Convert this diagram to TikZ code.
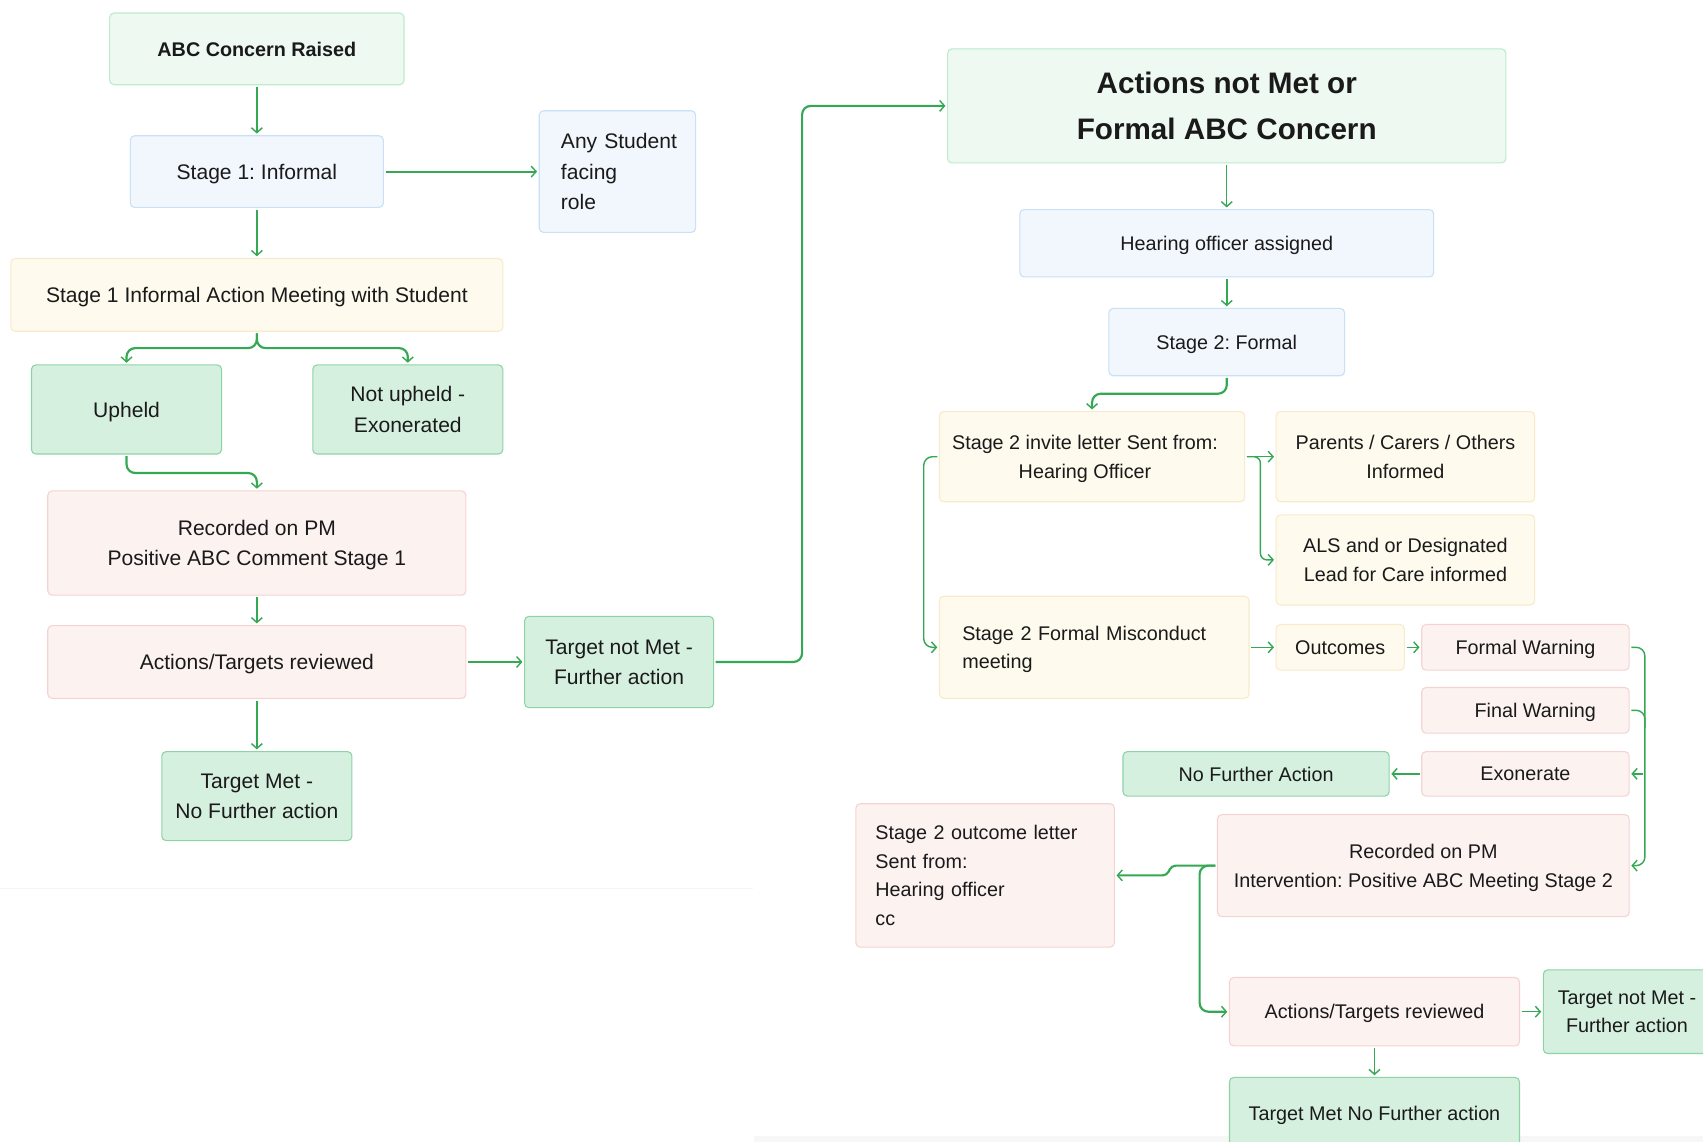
\documentclass[tikz,border=0pt]{standalone}
\usepackage{fontspec}
\setmainfont{Liberation Sans}
\frenchspacing
\usetikzlibrary{arrows.meta}
\definecolor{gfill}{HTML}{D6F0E0}
\definecolor{gline}{HTML}{8ED3A6}
\definecolor{lgfill}{HTML}{EEF9F1}
\definecolor{lgline}{HTML}{BDEBCB}
\definecolor{bfill}{HTML}{F1F7FD}
\definecolor{bline}{HTML}{C9E0F6}
\definecolor{yfill}{HTML}{FEFAEE}
\definecolor{yline}{HTML}{F9EBC9}
\definecolor{pfill}{HTML}{FCF3F1}
\definecolor{pline}{HTML}{F6D3D3}
\definecolor{lgreen}{HTML}{34A853}
\definecolor{txt}{HTML}{1A1A1A}
\tikzset{
  base/.style={draw, rounded corners=4pt, line width=1pt, align=center, inner sep=0pt,
    text depth=0pt, font=\fontsize{19.4}{28}\selectfont, text=txt},
  leftbox/.style={text depth=, align=left},
  rt/.style={font=\fontsize{18.2}{26.5}\selectfont},
  gbox/.style={base, fill=gfill, draw=gline},
  lgbox/.style={base, fill=lgfill, draw=lgline},
  bbox/.style={base, fill=bfill, draw=bline},
  ybox/.style={base, fill=yfill, draw=yline},
  pbox/.style={base, fill=pfill, draw=pline},
  arr/.style={draw=lgreen, line width=1.3pt, shorten >=1.5pt, shorten <=1.5pt,
    -{Straight Barb[length=4.5pt,width=10pt,line width=1.3pt]}},
  arrt/.style={arr, line width=2pt},
  ln/.style={draw=lgreen, line width=1.3pt},
}
\begin{document}
\begin{tikzpicture}[x=1pt,y=-1pt]
\useasboundingbox (0,0) rectangle (1568,1051);
\clip (0,0) rectangle (1568,1051);
\fill[white] (0,0) rectangle (1568,1051);
% faint panel edges
\draw[black!4, line width=1pt] (0,818) -- (693,818);
\fill[black!3] (694,1046) rectangle (1568,1051);

% left column
\node[lgbox, minimum width=271pt, minimum height=66pt, font=\bfseries\fontsize{18.2}{26}\selectfont] (abc) at (236.5,45) {ABC Concern Raised};
\node[bbox, minimum width=233pt, minimum height=66pt] (s1) at (236.5,158) {Stage 1: Informal};
\node[bbox, leftbox, minimum width=143pt, minimum height=112pt, text width=104pt, inner xsep=20pt] (any) at (568.5,158) {\mbox{Any Student}\\facing\\role};
\node[ybox, minimum width=453pt, minimum height=67pt] (meet) at (236.5,271.5) {Stage 1 Informal Action Meeting with Student};
\node[gbox, minimum width=175pt, minimum height=82pt] (upheld) at (116.5,377) {Upheld};
\node[gbox, minimum width=175pt, minimum height=82pt] (notup) at (375.5,377) {Not upheld -\\Exonerated};
\node[pbox, minimum width=385pt, minimum height=96pt] (rec1) at (236.5,500) {Recorded on PM\\Positive ABC Comment Stage 1};
\node[pbox, minimum width=385pt, minimum height=67pt] (act1) at (236.5,609.5) {Actions/Targets reviewed};
\node[gbox, minimum width=174pt, minimum height=84pt] (tnm1) at (570,609.5) {Target not Met -\\Further action};
\node[gbox, minimum width=175pt, minimum height=82pt] (tm1) at (236.5,733) {Target Met -\\No Further action};

% right column
\node[lgbox, minimum width=514pt, minimum height=105pt, font=\bfseries\fontsize{27.3}{42}\selectfont] (anm) at (1129.5,97.5) {Actions not Met or\\Formal ABC Concern};
\node[bbox, rt, minimum width=381pt, minimum height=62pt] (hear) at (1129.5,224) {Hearing officer assigned};
\node[bbox, rt, minimum width=217pt, minimum height=62pt] (s2) at (1129.5,315) {Stage 2: Formal};
\node[ybox, rt, minimum width=281pt, minimum height=83pt] (inv) at (1005.5,420.5) {Stage 2 invite letter Sent from:\hspace*{13pt}\\Hearing Officer\hspace*{13pt}};
\node[ybox, rt, minimum width=238pt, minimum height=83pt] (par) at (1294,420.5) {Parents / Carers / Others\\Informed};
\node[ybox, rt, minimum width=238pt, minimum height=83pt] (als) at (1294,515.5) {ALS and or Designated\\Lead for Care informed};
\node[ybox, rt, leftbox, minimum height=94pt, text width=243pt, inner xsep=21pt] (fmm) at (1007.5,596) {Stage 2 Formal Misconduct\\\smash{meeting}};
\node[ybox, rt, minimum width=118pt, minimum height=42pt] (out) at (1234,596) {Outcomes};
\node[pbox, rt, minimum width=191pt, minimum height=42pt] (fw) at (1404.5,596) {Formal Warning};
\node[pbox, rt, minimum width=191pt, minimum height=42pt] (finw) at (1404.5,654) {\hspace*{18pt}Final Warning};
\node[pbox, rt, minimum width=191pt, minimum height=41pt] (exo) at (1404.5,712.5) {Exonerate};
\node[gbox, rt, minimum width=245pt, minimum height=41pt] (nfa) at (1156.5,712.5) {No Further Action};
\node[pbox, rt, leftbox, minimum height=132pt, text width=202pt, inner xsep=18pt] (ol) at (907,806) {Stage 2 outcome letter\\Sent from:\\Hearing officer\\cc};
\node[pbox, rt, minimum width=379pt, minimum height=94pt] (rec2) at (1310.5,797) {Recorded on PM\\Intervention: Positive ABC Meeting Stage 2};
\node[pbox, rt, minimum width=267pt, minimum height=63pt] (act2) at (1265.5,931.5) {Actions/Targets reviewed};
\node[gbox, rt, minimum width=154pt, minimum height=77pt] (tnm2) at (1498,931.5) {Target not Met -\\Further action};
\node[gbox, rt, minimum width=267pt, minimum height=66pt] (tm2) at (1265.5,1025) {Target Met No Further action};

% connectors left
\draw[arr] (abc) -- (s1);
\draw[arrt] (s1) -- (any);
\draw[arr] (s1) -- (meet);
\draw[arrt, rounded corners=8pt] (meet.south) |- ([yshift=15pt]upheld.north) -- (upheld.north);
\draw[arrt, rounded corners=8pt] (meet.south) |- ([yshift=15pt]notup.north) -- (notup.north);
\draw[arrt, rounded corners=8pt] (upheld.south) |- ([yshift=16pt]rec1.north) -- (rec1.north);
\draw[arr] (rec1) -- (act1);
\draw[arrt] (act1) -- (tnm1);
\draw[arr] (act1) -- (tm1);
\draw[arrt, rounded corners=8pt] (tnm1.east) -- ([xshift=81pt]tnm1.east) |- (anm.west);

% connectors right
\draw[arr] (anm) -- (hear);
\draw[arrt] (hear) -- (s2);
\draw[arrt, rounded corners=8pt] (s2.south) |- ([yshift=16pt]inv.north) -- (inv.north);
\draw[arr] (inv.east) -- (par.west);
\draw[arr, rounded corners=6pt] (inv.east) -- ++(14,0) |- (als.west);
\draw[arr, rounded corners=8pt] (inv.west) -- ++(-14,0) |- (fmm.west);
\draw[arr] (fmm.east) -- (out.west);
\draw[arr] (out.east) -- (fw.west);
\draw[arr, rounded corners=8pt] (fw.east) -- ++(14,0) |- (rec2.east);
\draw[ln, rounded corners=8pt, shorten <=1.5pt] (finw.east) -| ++(14,16);
\draw[arr] ([xshift=14pt]exo.east) -- (exo.east);
\draw[arrt] (exo) -- (nfa);
\draw[arrt, rounded corners=4pt] (rec2.west) -- ++(-42,0) -- ++(-4,9) -- (ol.east);
\draw[arrt, rounded corners=8pt] (rec2.west) -- ++(-16,0) |- (act2.west);
\draw[arr] (act2) -- (tnm2);
\draw[arr] (act2) -- (tm2);
\end{tikzpicture}
\end{document}
